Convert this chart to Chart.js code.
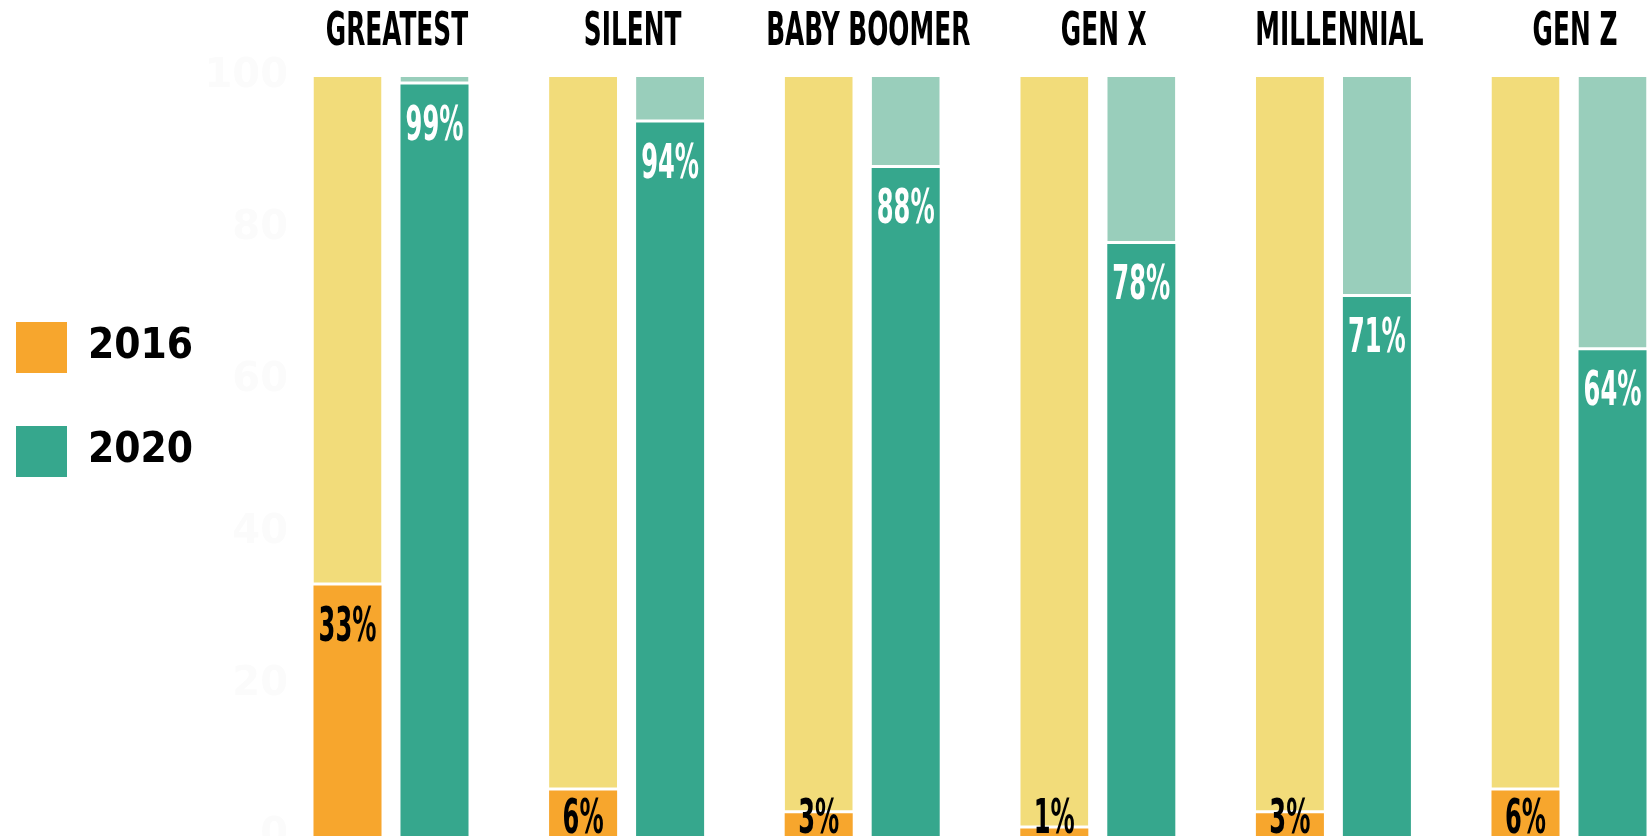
<!DOCTYPE html>
<html>
<head>
<meta charset="utf-8">
<script src="https://cdn.jsdelivr.net/npm/chart.js@4/dist/chart.umd.min.js"></script>
<style>
html, body { margin:0; padding:0; background:#fff; overflow:hidden; }
#wrap { width:1647px; height:836px; position:relative; }
</style>
</head>
<body>
<div id="wrap"><canvas id="Chart_gen"></canvas></div>
<script>
let generations=['GREATEST','SILENT','BABY BOOMER','GEN X','MILLENNIAL','GEN Z'];
let share2016=[33,6,3,1,3,6];
let rest2016=[67,94,97,99,97,94];
let share2020=[99,94,88,78,71,64];
let rest2020=[1,6,12,22,29,36];
let yTicks=[0,20,40,60,80,100];

let narrow="'DejaVu Sans Condensed','Liberation Sans Narrow',sans-serif";

// tall condensed text, squeezed horizontally
function squeezeText(ctx,text,x,y,size,color,sx) {
    ctx.save();
    ctx.font='bold '+size+'px '+narrow;
    ctx.fillStyle=color;
    ctx.textAlign='center';
    ctx.textBaseline='alphabetic';
    ctx.translate(x,y);
    ctx.scale(sx,1);
    ctx.fillText(text,0,0);
    ctx.restore();
}

// generation names above the groups + percent labels on the bars
let barLabels={
    id: 'barLabels',
    afterDatasetsDraw: function(chart) {
        let ctx=chart.ctx;
        let bottom=chart.chartArea.bottom;
        let xs=chart.scales.x;
        generations.forEach(function(g,i) {
            squeezeText(ctx,g,xs.getPixelForValue(i)+6,45,46,'#000',0.6);
        });
        [[0,share2016,'#000'],[2,share2020,'#fff']].forEach(function(s) {
            chart.getDatasetMeta(s[0]).data.forEach(function(bar,i) {
                squeezeText(ctx,s[1][i]+'%',bar.x,Math.min(bar.y+55,bottom-3),48,s[2],0.56);
            });
        });
    }
};

function barSet(label,data,color,stack,gap) {
    return {
        label          : label,
        data           : data,
        backgroundColor: color,
        borderColor    : '#fff',
        borderWidth    : gap ? {top:0,left:0,right:0,bottom:3} : 0,
        borderSkipped  : false,
        stack          : stack,
        clip           : false,
        categoryPercentage: 0.7385,
        barPercentage  : 0.782
    };
}

function drawChart(id) {
    let chartData={
        labels  : generations,
        datasets: [
            barSet('2016',share2016,'#F7A62D','y2016',false),
            barSet('2016 rest',rest2016,'#F2DC7A','y2016',true),
            barSet('2020',share2020,'#36A78D','y2020',false),
            barSet('2020 rest',rest2020,'#99CEBB','y2020',true)
        ]
    };
    return new Chart(document.getElementById(id).getContext('2d'), {
        type   : 'bar',
        data   : chartData,
        plugins: [barLabels],
        options: {
            responsive         : true,
            maintainAspectRatio: false,
            animation          : false,
            layout             : {padding: {left:0, top:0, right:78, bottom:0}},
            plugins: {
                tooltip: {enabled: false},
                legend : {
                    position: 'left',
                    align   : 'center',
                    labels  : {
                        boxWidth : 51,
                        boxHeight: 51,
                        padding  : 16,
                        color    : '#000',
                        font     : {family: narrow, size: 42, weight: 'bold', lineHeight: '88px'},
                        generateLabels: function(c) {
                            return Chart.defaults.plugins.legend.labels.generateLabels(c)
                                .filter(function(l) { return l.datasetIndex%2===0; })
                                .map(function(l) { l.text=[l.text]; l.lineWidth=0; return l; });
                        }
                    }
                }
            },
            scales: {
                x: {
                    position: 'top',
                    stacked : true,
                    offset  : false,
                    grid    : {display: false, drawTicks: false},
                    border  : {display: false},
                    ticks   : {display: false},
                    afterFit: function(s) { s.height=77; s.paddingLeft=0; s.paddingRight=0; }
                },
                y: {
                    stacked: true,
                    min    : 0,
                    max    : 100,
                    grid   : {display: false, drawTicks: false},
                    border : {display: false},
                    ticks  : {
                        color  : '#fbfbfb',
                        font   : {family: "'DejaVu Sans',sans-serif", size: 40, weight: 'bold'},
                        padding: 103
                    },
                    afterBuildTicks: function(s) {
                        s.ticks=yTicks.map(function(v) { return {value: v}; });
                    },
                    afterFit: function(s) {
                        let lw=s.chart.legend ? s.chart.legend.width : 0;
                        s.width=391-lw;
                        s.paddingTop=0;
                        s.paddingBottom=0;
                    }
                }
            }
        }
    });
}

drawChart('Chart_gen');
</script>
</body>
</html>
